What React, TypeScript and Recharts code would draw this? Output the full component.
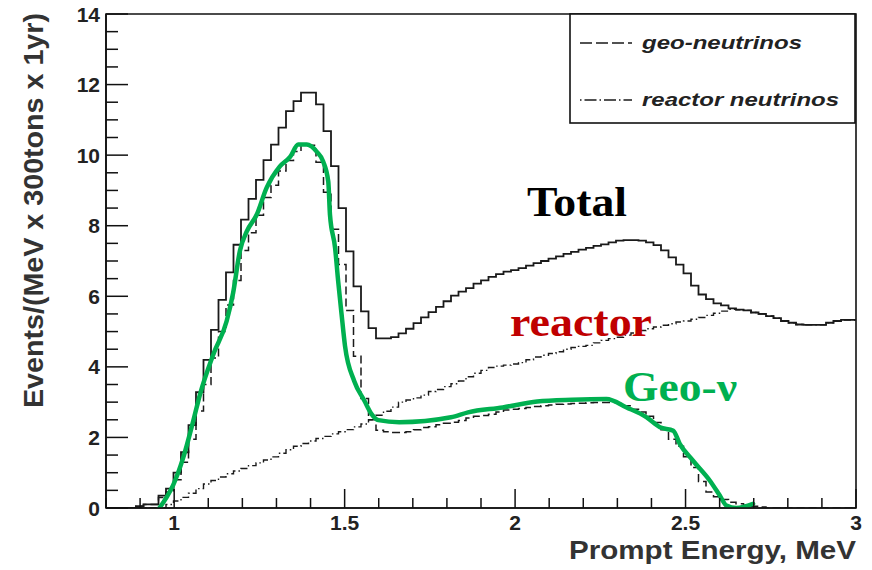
import React from "react";
import { ComposedChart, Line, XAxis, YAxis, ReferenceArea } from "recharts";

// histogram binning: 100 bins from 0.8 to 3.0 MeV
const BIN_START = 0.8;
const BIN_WIDTH = 0.022;

const totalEvents = [
  0, 0, 0, 0, 0.05, 0.1, 0.1, 0.35, 0.55, 1.0,
  1.58, 2.35, 3.28, 4.2, 5.05, 5.9, 6.68, 7.46, 8.17, 8.76,
  9.3, 9.86, 10.3, 10.78, 11.25, 11.53, 11.77, 11.77, 11.44, 10.68,
  9.69, 8.5, 7.27, 6.28, 5.57, 5.1, 4.81, 4.81, 4.84, 4.95,
  5.08, 5.24, 5.4, 5.55, 5.7, 5.86, 6.02, 6.13, 6.23, 6.36,
  6.45, 6.55, 6.63, 6.7, 6.74, 6.8, 6.87, 6.94, 7.0, 7.07,
  7.13, 7.2, 7.26, 7.32, 7.37, 7.43, 7.47, 7.53, 7.58, 7.59,
  7.59, 7.58, 7.53, 7.45, 7.3, 7.1, 6.9, 6.65, 6.3, 6.05,
  5.92, 5.8, 5.74, 5.66, 5.62, 5.6, 5.54, 5.5, 5.44, 5.38,
  5.3, 5.25, 5.2, 5.19, 5.19, 5.19, 5.25, 5.3, 5.33, 5.33,
];

const reactorEvents = [
  0, 0, 0, 0, 0, 0, 0, 0, 0.1, 0.2,
  0.3, 0.42, 0.55, 0.68, 0.78, 0.88, 0.97, 1.05, 1.12, 1.2,
  1.28, 1.36, 1.45, 1.55, 1.65, 1.75, 1.83, 1.9, 1.97, 2.03,
  2.1, 2.16, 2.22, 2.3, 2.38, 2.5, 2.63, 2.74, 2.86, 3.0,
  3.06, 3.12, 3.2, 3.3, 3.36, 3.44, 3.52, 3.6, 3.72, 3.82,
  3.9, 3.98, 4.02, 4.05, 4.08, 4.12, 4.2, 4.28, 4.33, 4.38,
  4.43, 4.5, 4.55, 4.58, 4.61, 4.68, 4.75, 4.8, 4.84, 4.9,
  4.96, 5.03, 5.08, 5.13, 5.18, 5.22, 5.27, 5.3, 5.35, 5.4,
  5.46, 5.52, 5.58, 5.63, 5.62, 5.6, 5.54, 5.5, 5.44, 5.38,
  5.3, 5.25, 5.2, 5.19, 5.19, 5.19, 5.25, 5.3, 5.33, 5.33,
];

const geoEvents = [
  0, 0, 0, 0, 0.05, 0.1, 0.1, 0.3, 0.45, 0.8,
  1.3, 1.95, 2.75, 3.5, 4.25, 5.0, 5.75, 6.45, 7.3, 7.8,
  8.3, 8.8, 9.15, 9.55, 9.85, 10.1, 10.28, 10.28, 9.8, 8.95,
  7.9, 6.9, 5.6, 4.3, 3.1, 2.5, 2.2, 2.16, 2.14, 2.14,
  2.16, 2.22, 2.28, 2.3, 2.36, 2.4, 2.43, 2.48, 2.55, 2.6,
  2.62, 2.66, 2.72, 2.78, 2.8, 2.82, 2.85, 2.88, 2.9, 2.92,
  2.94, 2.95, 2.96, 2.97, 2.98, 2.99, 2.99, 2.99, 2.97, 2.9,
  2.8, 2.72, 2.6, 2.42, 2.22, 1.95, 1.75, 1.45, 1.15, 0.75,
  0.45, 0.32, 0.24, 0.16, 0.12, 0.08, 0.05, 0.03, 0, 0,
  0, 0, 0, 0, 0, 0, 0, 0, 0, 0,
];

// hand-drawn green Geo-v trace
const traceEnergy = [
  0.953, 0.978, 0.997, 1.027, 1.056, 1.076, 1.115, 1.154, 1.173, 1.193,
  1.213, 1.242, 1.271, 1.31, 1.34, 1.364, 1.389, 1.418, 1.437, 1.452,
  1.457, 1.472, 1.481, 1.491, 1.501, 1.528, 1.558, 1.579, 1.599, 1.66,
  1.812, 1.862, 1.964, 2.065, 2.167, 2.268, 2.327, 2.386, 2.425, 2.464,
  2.483, 2.522, 2.571, 2.6, 2.62, 2.649, 2.698,
];
const traceEvents = [
  -0.05, 0.31, 0.65, 1.44, 2.47, 3.23, 4.36, 5.3, 6.1, 7.3,
  7.84, 8.31, 9.07, 9.68, 9.95, 10.3, 10.3, 10.1, 9.82, 9.25,
  8.31, 7.37, 6.43, 5.49, 4.6, 3.6, 3.04, 2.66, 2.49, 2.43,
  2.57, 2.71, 2.85, 3.02, 3.07, 3.09, 2.85, 2.57, 2.29, 2.19,
  1.82, 1.34, 0.78, 0.36, 0.07, 0.0, 0.12,
];

const xTicks = [
  0.8, 0.9, 1, 1.1, 1.2, 1.3, 1.4, 1.5, 1.6, 1.7, 1.8, 1.9,
  2, 2.1, 2.2, 2.3, 2.4, 2.5, 2.6, 2.7, 2.8, 2.9, 3,
];
const xLabels = [1, 1.5, 2, 2.5, 3];
const yTicks = [
  0, 0.5, 1, 1.5, 2, 2.5, 3, 3.5, 4, 4.5, 5, 5.5, 6, 6.5, 7,
  7.5, 8, 8.5, 9, 9.5, 10, 10.5, 11, 11.5, 12, 12.5, 13, 13.5, 14,
];
const yLabels = [0, 2, 4, 6, 8, 10, 12, 14];

const histData = Array.from({ length: totalEvents.length + 1 }, (_, i) => {
  const k = Math.min(i, totalEvents.length - 1);
  return {
    e: Number((BIN_START + i * BIN_WIDTH).toFixed(3)),
    total: totalEvents[k],
    geo: geoEvents[k],
    reactor: reactorEvents[k],
  };
});
const traceData = traceEnergy.map((e, i) => ({ e, trace: traceEvents[i] }));

const AXIS = "#111";
const GREEN = "#00b050";
const sans = "'Liberation Sans', Arial, sans-serif";
const serif = "'Liberation Serif', 'Times New Roman', serif";

const isIn = (list: number[], v: number) => list.some((l) => Math.abs(l - v) < 1e-6);

const XTick = (props: any) => {
  const { x, y, payload } = props;
  const major = isIn(xLabels, payload.value);
  return (
    <g>
      <line x1={x} x2={x} y1={y} y2={y - (major ? 19 : 10)} stroke={AXIS} strokeWidth={1.5} />
      {major && (
        <text x={x} y={y + 22} textAnchor="middle" fontFamily={sans} fontWeight={700} fontSize={21} fill="#222">
          {payload.value}
        </text>
      )}
    </g>
  );
};

const YTick = (props: any) => {
  const { x, y, payload } = props;
  const major = isIn(yLabels, payload.value);
  return (
    <g>
      <line x1={x} x2={x + (major ? 22 : 12)} y1={y} y2={y} stroke={AXIS} strokeWidth={1.5} />
      {major && (
        <text x={x - 6} y={y} dy={7.5} textAnchor="end" fontFamily={sans} fontWeight={700} fontSize={21} fill="#222">
          {payload.value}
        </text>
      )}
    </g>
  );
};

export default function App() {
  return (
    <div style={{ position: "absolute", left: 0, top: 0, width: 872, height: 570, background: "#fff" }}>
      <ComposedChart
        width={872}
        height={570}
        data={histData}
        margin={{ top: 14, right: 16, left: 46, bottom: 32 }}
      >
        <XAxis
          dataKey="e"
          type="number"
          domain={[0.8, 3]}
          ticks={xTicks}
          interval={0}
          allowDataOverflow
          tickSize={0}
          tickMargin={0}
          tickLine={false}
          tick={<XTick />}
          axisLine={{ stroke: AXIS, strokeWidth: 1.6 }}
          height={30}
        />
        <YAxis
          type="number"
          domain={[0, 14]}
          ticks={yTicks}
          interval={0}
          allowDataOverflow
          tickSize={0}
          tickMargin={0}
          tickLine={false}
          tick={<YTick />}
          axisLine={{ stroke: AXIS, strokeWidth: 1.6 }}
          width={60}
        />
        <ReferenceArea x1={0.8} x2={3} y1={0} y2={14} fill="none" stroke={AXIS} strokeWidth={1.6} />
        <Line
          dataKey="total"
          type="stepAfter"
          stroke="#1a1a1a"
          strokeWidth={1.8}
          dot={false}
          isAnimationActive={false}
        />
        <Line
          dataKey="reactor"
          type="stepAfter"
          stroke="#1a1a1a"
          strokeWidth={1.4}
          strokeDasharray="7 3 1.5 3"
          dot={false}
          isAnimationActive={false}
        />
        <Line
          dataKey="geo"
          type="stepAfter"
          stroke="#1a1a1a"
          strokeWidth={1.5}
          strokeDasharray="8 4"
          dot={false}
          isAnimationActive={false}
        />
        <Line
          data={traceData}
          dataKey="trace"
          type="monotone"
          stroke={GREEN}
          strokeWidth={4.5}
          strokeLinecap="round"
          strokeLinejoin="round"
          dot={false}
          isAnimationActive={false}
        />
      </ComposedChart>

      <svg
        width={872}
        height={570}
        style={{ position: "absolute", left: 0, top: 0, pointerEvents: "none" }}
      >
        {/* axis titles */}
        <text
          transform="translate(43,210.5) rotate(-90)"
          textAnchor="middle"
          fontFamily={sans}
          fontWeight={700}
          fontSize={27}
          fill="#333"
          textLength={395}
          lengthAdjust="spacingAndGlyphs"
        >
          Events/(MeV x 300tons x 1yr)
        </text>
        <text
          x={569}
          y={559}
          fontFamily={sans}
          fontWeight={700}
          fontSize={26}
          fill="#333"
          textLength={287}
          lengthAdjust="spacingAndGlyphs"
        >
          Prompt Energy, MeV
        </text>

        {/* legend */}
        <rect x={570} y={14} width={285} height={109} fill="#fff" stroke={AXIS} strokeWidth={1.6} />
        <line x1={580} x2={632} y1={43} y2={43} stroke="#1a1a1a" strokeWidth={1.5} strokeDasharray="12 4" />
        <text x={642} y={49} fontFamily={sans} fontWeight={700} fontStyle="italic" fontSize={19} fill="#222"
          textLength={160} lengthAdjust="spacingAndGlyphs">
          geo-neutrinos
        </text>
        <line x1={580} x2={632} y1={100} y2={100} stroke="#1a1a1a" strokeWidth={1.5} strokeDasharray="1.5 3 12 3" />
        <text x={642} y={106} fontFamily={sans} fontWeight={700} fontStyle="italic" fontSize={19} fill="#222"
          textLength={197} lengthAdjust="spacingAndGlyphs">
          reactor neutrinos
        </text>

        {/* annotations */}
        <text x={527} y={216} fontFamily={serif} fontWeight={700} fontSize={42} fill="#000"
          textLength={100} lengthAdjust="spacingAndGlyphs">
          Total
        </text>
        <text x={510} y={336} fontFamily={serif} fontWeight={700} fontSize={42} fill="#c00000"
          textLength={142} lengthAdjust="spacingAndGlyphs">
          reactor
        </text>
        <text x={623} y={401} fontFamily={serif} fontWeight={700} fontSize={42} fill={GREEN}
          textLength={114} lengthAdjust="spacingAndGlyphs">
          Geo-ν
        </text>
      </svg>
    </div>
  );
}
